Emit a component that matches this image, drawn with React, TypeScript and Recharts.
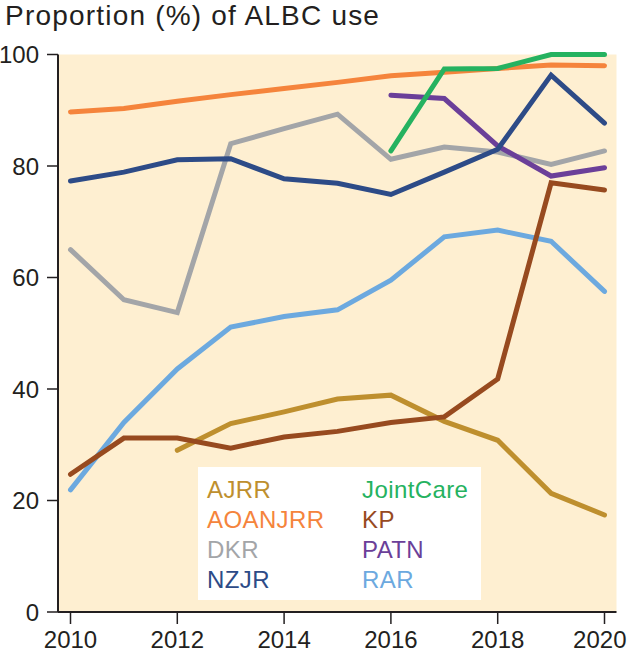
import { CartesianGrid, Line, LineChart, XAxis, YAxis } from "recharts";

const years = [2010, 2011, 2012, 2013, 2014, 2015, 2016, 2017, 2018, 2019, 2020];

const ajrr = [null, null, 29, 33.8, 35.9, 38.2, 38.9, 34.2, 30.8, 21.3, 17.4];
const aoanjrr = [89.7, 90.3, 91.6, 92.8, 93.9, 95.0, 96.2, 96.8, 97.5, 98.1, 98.0];
const dkr = [65, 56, 53.7, 84, 86.7, 89.3, 81.2, 83.4, 82.5, 80.3, 82.7];
const nzjr = [77.3, 78.9, 81.1, 81.3, 77.7, 76.9, 74.9, 78.9, 83, 96.3, 87.7];
const jointCare = [null, null, null, null, null, null, 82.7, 97.4, 97.5, 100, 100];
const kp = [24.7, 31.2, 31.2, 29.4, 31.4, 32.4, 34, 35, 41.8, 77, 75.7];
const patn = [null, null, null, null, null, null, 92.7, 92.1, 83.6, 78.2, 79.7];
const rar = [21.9, 34, 43.6, 51.1, 53, 54.2, 59.5, 67.3, 68.5, 66.5, 57.5];

const xTicks = [2010, 2012, 2014, 2016, 2018, 2020];
const yTicks = [0, 20, 40, 60, 80, 100];

// draw order (bottom to top)
const series = [
  { key: "AJRR", values: ajrr, color: "#BE8F2E" },
  { key: "DKR", values: dkr, color: "#A3A5A8" },
  { key: "RAR", values: rar, color: "#6CA9DF" },
  { key: "KP", values: kp, color: "#974A1F" },
  { key: "PATN", values: patn, color: "#6B3F99" },
  { key: "NZJR", values: nzjr, color: "#2D4B87" },
  { key: "AOANJRR", values: aoanjrr, color: "#F5843C" },
  { key: "JointCare", values: jointCare, color: "#25B260" },
];

const legendCols = [
  ["AJRR", "AOANJRR", "DKR", "NZJR"],
  ["JointCare", "KP", "PATN", "RAR"],
];

const data = years.map((year, i) => {
  const row: Record<string, number | null> = { year };
  series.forEach((s) => {
    row[s.key] = s.values[i];
  });
  return row;
});

const ink = "#231F20";
const font = "'Liberation Sans', Arial, Helvetica, sans-serif";
const colorOf = (key: string) => series.find((s) => s.key === key)?.color;

// year labels; the last one is nudged so it stays inside the frame
function YearTick(props: any) {
  const { x, y, payload } = props;
  const last = payload.value === xTicks[xTicks.length - 1];
  return (
    <text x={last ? x + 22 : x} y={y} dy="0.71em" textAnchor={last ? "end" : "middle"} fontSize={24} fill={ink}>
      {payload.value}
    </text>
  );
}

export default function App() {
  return (
    <div style={{ position: "absolute", left: 0, top: 0, width: 628, height: 653, fontFamily: font }}>
      <div
        style={{
          position: "absolute",
          left: 5,
          top: 0,
          fontSize: 28,
          lineHeight: "normal",
          letterSpacing: 1.2,
          color: ink,
          whiteSpace: "nowrap",
        }}
      >
        Proportion (%) of ALBC use
      </div>
      <LineChart
        width={628}
        height={653}
        data={data}
        margin={{ top: 54.5, right: 11.5, bottom: 0, left: 0 }}
        style={{ fontFamily: font }}
      >
        <CartesianGrid fill="#FEEFD1" fillOpacity={1} stroke="none" />
        <XAxis
          dataKey="year"
          type="number"
          domain={[2010, 2020]}
          ticks={xTicks}
          padding={{ left: 12.5, right: 12 }}
          height={41}
          tickSize={12}
          tickMargin={7}
          axisLine={{ stroke: ink, strokeWidth: 2 }}
          tickLine={{ stroke: ink, strokeWidth: 1.5 }}
          tick={<YearTick />}
        />
        <XAxis
          xAxisId="top"
          orientation="top"
          dataKey="year"
          type="number"
          domain={[2010, 2020]}
          height={0}
          tick={false}
          tickLine={false}
          axisLine={{ stroke: ink, strokeWidth: 2 }}
        />
        <YAxis
          type="number"
          domain={[0, 100]}
          ticks={yTicks}
          width={58}
          tickSize={11}
          tickMargin={8}
          axisLine={{ stroke: ink, strokeWidth: 2 }}
          tickLine={{ stroke: ink, strokeWidth: 1.5 }}
          tick={{ fontSize: 24, fill: ink }}
        />
        <YAxis
          yAxisId="right"
          orientation="right"
          type="number"
          domain={[0, 100]}
          width={0}
          tick={false}
          tickLine={false}
          axisLine={{ stroke: ink, strokeWidth: 2 }}
        />
        {series.map((s) => (
          <Line
            key={s.key}
            dataKey={s.key}
            stroke={s.color}
            strokeWidth={5}
            strokeLinecap="round"
            dot={false}
            activeDot={false}
            connectNulls={false}
            isAnimationActive={false}
          />
        ))}
      </LineChart>
      <div
        style={{
          position: "absolute",
          left: 197.5,
          top: 467,
          width: 283.5,
          height: 133,
          background: "#FFFFFF",
        }}
      >
        {legendCols.map((col, ci) => (
          <div key={ci} style={{ position: "absolute", left: ci === 0 ? 9.5 : 164.5, top: 7.6 }}>
            {col.map((name) => (
              <div
                key={name}
                style={{ fontSize: 24, lineHeight: "30px", color: colorOf(name), letterSpacing: 0.4, whiteSpace: "nowrap" }}
              >
                {name}
              </div>
            ))}
          </div>
        ))}
      </div>
    </div>
  );
}
